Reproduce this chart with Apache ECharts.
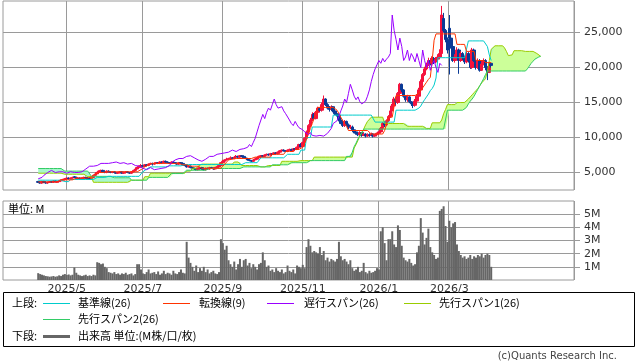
<!DOCTYPE html>
<html><head><meta charset="utf-8">
<script src="https://cdn.jsdelivr.net/npm/echarts@6/dist/echarts.min.js"></script>
<style>html,body{margin:0;padding:0;background:#fff}#c{width:638px;height:362px}</style>
</head><body><div id="c"></div>
<script>
// ---- categories (trading-day slots) ----
const N_CAT = 300;          // slots on the time axis (incl. future 26 days and margins)
const START = 18;           // slot of first candle
const monthLabels = ['2025/5','2025/7','2025/9','2025/11','2026/1','2026/3'];
const monthIdx    = [33, 73, 115, 157, 197, 234];
const priceTicks  = [5000, 10000, 15000, 20000, 25000];
const volTicks    = [1, 2, 3, 4, 5];

// ---- daily prices ----
const opens = [
3700,3600,3500,3700,3600,3500,3600,3700,3600,3800,
3600,3700,3800,3900,4000,4100,4200,4100,4200,4400,
4300,4100,4200,4100,4200,4300,4200,4200,4100,4300,
4600,4800,5000,5200,5300,5100,5000,5200,5100,5000,
5100,5000,4900,5000,5100,4900,5000,5100,5000,4900,
5100,5300,5500,5700,5900,6000,5900,6100,6000,6200,
6300,6200,6300,6400,6300,6500,6400,6600,6500,6400,
6300,6500,6400,6300,6200,6400,6300,6100,6000,5800,
5900,5700,5600,5500,5400,5600,5700,5500,5400,5600,
5500,5700,5600,5500,5700,5800,6000,6400,6600,6800,
6900,7000,7100,7000,7200,7300,7200,7400,7300,7100,
7000,6800,6700,6600,6800,6900,7100,7300,7400,7300,
7500,7600,7500,7700,7600,7800,7700,7900,8100,8200,
8100,8000,8200,8300,8100,8400,8300,8600,9000,8700,
9300,9900,10800,11700,12500,13300,12700,13600,14200,13900,
14700,15500,14700,14200,14000,14400,13800,13400,13200,12500,
12000,11700,12300,11800,11400,11500,11100,10800,10600,10400,
10700,10300,10500,10200,10400,10300,10500,10200,10400,10600,
10800,11300,12000,11800,12400,13000,13800,14500,15500,15000,
16300,17600,16800,15900,15400,15800,15100,14800,14600,15200,
15900,16800,18000,19000,19800,20400,21000,20600,21300,20800,
21200,21500,22000,27000,25300,24000,25600,24200,23000,21000,
21500,22500,21000,22000,21500,20800,22000,21000,20000,22500,
21000,20000,21000,19600,20500,21000,20000,19300,20600];
const closes = [
3600,3500,3700,3600,3500,3600,3700,3600,3800,3700,
3700,3800,3900,4000,4100,4200,4100,4200,4300,4300,
4100,4200,4100,4200,4300,4200,4100,4100,4300,4600,
4800,5000,5200,5300,5100,5000,5200,5100,5000,5100,
5000,4900,5000,5100,4900,5000,5100,5000,4900,5100,
5300,5500,5700,5900,6000,5900,6100,6000,6200,6300,
6200,6300,6400,6300,6500,6400,6600,6500,6400,6300,
6500,6400,6300,6200,6400,6300,6100,6000,5800,5900,
5700,5600,5500,5400,5600,5700,5500,5400,5600,5500,
5700,5600,5500,5700,5800,6000,6400,6600,6800,6900,
7000,7100,7000,7200,7300,7200,7400,7300,7100,7000,
6800,6700,6600,6800,6900,7100,7300,7400,7300,7500,
7600,7500,7700,7600,7800,7700,7900,8100,8200,8100,
8000,8200,8300,8100,8400,8300,8600,9000,8700,9300,
9900,10800,11700,12500,13300,12700,13600,14200,13900,14700,
15500,14700,14200,14000,14400,13800,13400,13200,12500,12000,
11700,12300,11800,11400,11500,11100,10800,10600,10400,10700,
10300,10500,10200,10400,10300,10500,10200,10400,10600,10800,
11300,12000,11800,12400,13000,13800,14500,15500,15000,16300,
17600,16800,15900,15400,15800,15100,14800,14600,15200,15900,
16800,18000,19000,19800,20400,21000,20600,21300,20800,21200,
21500,22000,27500,25300,24000,22500,24200,23000,21000,21500,
22500,21000,22000,21500,20800,22000,21000,20000,22500,21000,
20000,21000,19600,20500,21000,20000,19300,20600,20300];
const highs = [
3800,3700,3800,3800,3700,3700,3800,3800,3900,3900,
3800,3900,4000,4100,4200,4300,4300,4300,4400,4500,
4400,4300,4300,4300,4400,4400,4300,4300,4400,4700,
4900,5100,5300,5400,5400,5200,5300,5300,5200,5200,
5200,5100,5100,5200,5200,5100,5200,5200,5100,5200,
5400,5600,5800,6000,6200,6100,6200,6200,6300,6400,
6400,6400,6500,6500,6600,6600,6700,6700,6600,6500,
6600,6600,6500,6400,6500,6500,6400,6200,6100,6000,
6000,5800,5700,5600,5700,5800,5800,5600,5700,5700,
5800,5800,5700,5800,5900,6100,6500,6800,6900,7100,
7100,7300,7200,7300,7500,7400,7500,7500,7400,7200,
7100,6900,6800,6900,7000,7200,7400,7500,7500,7600,
7700,7700,7800,7800,7900,7900,8000,8200,8300,8300,
8200,8300,8400,8400,8500,8500,8700,9100,9200,9400,
10000,11000,11900,12800,13600,13500,13800,14400,14300,15000,
16000,15600,14900,14500,14600,14500,14000,13600,13400,12800,
12200,12500,12400,12000,11800,11700,11300,11000,10800,10900,
10800,10700,10600,10600,10600,10700,10600,10500,10700,10900,
11500,12200,12300,12600,13200,14000,14800,15800,15800,16500,
17800,17700,16900,16000,16100,15900,15200,15000,15500,16200,
17100,18300,19200,20100,20700,21400,21300,21600,21500,21500,
21900,22600,28800,27800,25500,24300,27500,25200,23200,21900,
22900,22700,22300,22200,21700,22300,22200,21200,22800,22700,
21200,21300,21200,20900,21300,21200,20200,20800,20700];
const lows = [
3500,3400,3400,3500,3400,3400,3500,3500,3500,3600,
3500,3600,3700,3800,3900,4000,4000,4000,4100,4200,
4000,4000,4000,4000,4100,4100,4000,4000,4000,4200,
4500,4700,4900,5100,5000,4900,4900,5000,4900,4900,
4900,4800,4800,4900,4800,4800,4900,4900,4800,4800,
5000,5200,5400,5600,5800,5800,5800,5900,5900,6100,
6000,6100,6200,6200,6200,6300,6300,6400,6300,6200,
6200,6300,6200,6100,6100,6200,6000,5900,5700,5700,
5600,5500,5400,5300,5300,5500,5400,5300,5300,5400,
5400,5500,5400,5400,5600,5700,5900,6300,6500,6700,
6800,6900,6900,6900,7100,7100,7100,7200,7000,6900,
6700,6600,6500,6500,6700,6800,7000,7200,7200,7200,
7400,7400,7400,7500,7500,7600,7600,7800,8000,8000,
7900,7900,8100,8000,8000,8200,8200,8500,8600,8600,
9200,9700,10600,11500,12300,12500,12600,13400,13700,13700,
14500,14500,14000,13700,13800,13600,13200,13000,12300,11900,
11500,11500,11600,11200,11200,10900,10600,10400,10200,10200,
10100,10200,10000,10100,10100,10200,10000,10100,10200,10500,
10700,11100,11500,11600,12200,12800,13700,14300,14700,14800,
16100,16500,15700,15100,15100,14900,14500,14200,14400,15000,
15700,16600,17800,18800,19600,20200,20300,20400,20500,20600,
20900,21200,21700,25000,23600,22000,19000,22700,20800,20700,
21200,19100,20800,21100,20500,20600,20700,19800,19800,20800,
19700,19800,19400,19500,20300,19600,18200,19200,20000];

// ---- volume (M shares) ----
const volumes = [
0.52,0.45,0.4,0.35,
0.3,0.28,0.25,0.27,0.3,0.25,0.28,0.35,0.3,
0.4,0.45,0.38,0.42,0.35,0.4,
0.95,
0.55,0.4,0.35,0.3,0.35,0.4,0.3,0.35,0.3,0.4,0.35,
1.35,1.3,1.2,
1.25,1.0,0.9,
0.6,0.55,0.5,0.6,0.45,0.5,0.4,
0.5,0.45,0.55,0.4,0.45,0.5,0.35,0.45,
1.2,1.2,0.8,
0.5,0.45,0.6,0.8,0.5,0.55,0.6,0.45,
0.65,0.4,0.5,0.7,0.45,0.55,0.5,0.4,0.7,0.5,0.45,0.6,0.8,0.55,0.5,
2.9,
1.7,1.3,1.0,
0.7,1.1,0.6,0.9,0.7,1.0,0.6,0.8,0.5,0.6,0.7,0.5,0.45,0.6,
3.1,2.8,2.3,2.6,1.5,1.2,
1.0,1.4,0.8,1.2,1.6,1.0,1.5,
1.6,1.1,1.3,0.9,1.2,1.0,0.8,
1.2,1.3,2.1,1.5,1.0,1.1,
0.7,0.8,0.6,0.9,0.7,0.6,0.8,0.5,0.6,
1.1,
0.7,0.6,0.8,0.5,
1.1,1.0,0.9,1.15,0.9,
2.5,3.1,2.6,2.1,
2.2,2.1,2.0,2.5,1.9,
2.2,1.5,1.7,1.4,1.6,
1.5,1.4,1.6,
2.9,
1.8,1.5,1.6,1.4,1.2,1.5,
0.9,0.7,0.8,1.0,0.6,0.7,
1.3,
0.6,0.5,0.7,0.55,0.6,0.7,
0.9,0.8,
3.7,4.0,2.8,1.5,3.1,3.1,3.7,2.7,2.5,4.15,3.8,2.6,1.7,
1.5,1.4,1.6,1.3,1.1,1.2,
2.1,2.6,4.7,3.6,2.7,3.2,3.9,2.5,2.1,1.9,1.6,1.7,
5.25,5.4,5.6,4.1,2.9,4.5,4.0,4.3,4.4,2.7,2.2,1.9,
1.7,1.8,1.6,1.7,1.9,1.6,1.8,1.7,1.9,1.8,2.0,1.7,1.9,2.0,1.9,
1.0];

// ---- ichimoku lines, as [value, run length] from START ----
const tenkanRuns = [[3650,12],[3950,8],[4200,8],[4400,1],[4600,1],[4800,1],[4900,1],[5000,4],[5100,18],
[5400,1],[5600,1],[5800,1],[6000,1],[6100,1],[6300,16],[6100,5],[5900,6],[5600,11],
[5900,1],[6200,1],[6500,1],[6800,1],[6900,3],[7000,10],[7200,9],[7600,7],[8000,5],[8300,4],
[8600,1],[9200,1],[9800,1],[10500,1],[11300,1],[12000,1],[12800,1],[13300,1],[14300,10],
[13900,1],[13400,1],[12900,1],[12400,1],[12000,1],[11600,1],[11000,12],[10500,7],
[11000,1],[12000,1],[12900,3],[14500,1],[16000,12],
[16300,1],[16700,1],[17100,1],[17500,1],[17900,1],[18300,1],[18600,1],[21000,1],[23900,1],
[24800,11],[23300,5],[22300,5],[21000,5],[20700,4]];
const kijunRuns = [[3900,13],[3700,4],[4000,14],[4300,5],[4450,18],[4800,1],[5100,1],[5300,1],[5500,1],[5600,1],
[5800,10],[5950,8],[6140,31],[6400,9],[7100,14],[7600,7],[8200,3],[10000,3],[11500,11],[13200,22],
[12200,11],[13900,12],[14200,1],[14500,1],[15000,1],[15400,1],[15800,1],[16200,1],[16700,1],[17000,1],
[17500,1],[18500,1],[21400,16],[23800,9],[23800,1],[23000,1],[21800,1],[21000,1]];
const senkouARuns = [[4900,14],[4750,12],[4400,3],[3600,20],[3900,7],[4400,3],[4900,19],[5200,3],[5600,3],[5900,2],
[6200,17],[6500,4],[6000,10],[5800,4],[6000,7],[6600,10],[6700,7],[7200,21],
[8500,1],[9000,1],[9600,1],[10200,1],[10700,1],[11200,1],[11800,1],[12300,1],[12500,1],
[12900,7],[12000,12],[11600,10],[11300,3],[12100,5],[12500,1],[13400,1],[14000,1],[14700,5],[15000,5],
[15200,1],[15500,1],[15800,1],[16100,1],[16400,1],[16700,1],[17000,1],[17400,1],[17800,1],[18100,1],[18400,1],
[19500,1],[21000,1],[22600,2],[23100,5],[22800,1],[22300,1],[21700,1],[21600,1],[21800,1],
[22400,6],[22300,5],[22100,1],[22000,1],[21800,1],[21600,1]];
const senkouBRuns = [[5570,14],[5200,14],[4450,11],[4250,10],[3900,9],[4300,12],[4850,8],[5330,12],[5570,17],
[5800,16],[6100,10],[6400,10],[6700,19],[7300,3],[7900,1],[8700,1],[9200,1],[9800,1],[10300,1],[10600,1],
[11200,44],[13900,9],[14000,1],[14300,1],[14800,1],[15200,1],[15500,1],[15900,1],[16400,1],[16900,1],
[17400,1],[17900,1],[18400,1],[19000,1],[19500,21],
[19800,1],[20200,1],[20600,1],[20900,1],[21200,1],[21400,1],[21500,1],[21600,1]];
const CHIKOU_SHIFT = 26;

// ---- build ----
function expand(runs){const o=[];runs.forEach(function(r){for(let i=0;i<r[1];i++)o.push(r[0]);});return o;}
function pairs(arr){return arr.map(function(v,i){return [START+i, v];});}
const tenkan = expand(tenkanRuns), kijun = expand(kijunRuns);
const spanA = expand(senkouARuns), spanB = expand(senkouBRuns);
const chikou = closes.slice(CHIKOU_SHIFT);
const cats = []; for (let i=0;i<N_CAT;i++) cats.push(String(i));
const candle = opens.map(function(o,i){return [START+i, o, closes[i], lows[i], highs[i]];});
const cloudBase = spanA.map(function(a,i){return [START+i, Math.min(a, spanB[i])];});
const cloudUp = spanA.map(function(a,i){return [START+i, Math.max(a-spanB[i],0)];});
const cloudDn = spanA.map(function(a,i){return [START+i, Math.max(spanB[i]-a,0)];});
const isMonth = function(i){return monthIdx.indexOf(i) >= 0;};

const gridLine = {color:'#9a9a9a', width:1};
const numFont = 'DejaVu Sans';
const jpFont = 'Noto Sans CJK JP';

const chart = echarts.init(document.getElementById('c'), null, {renderer:'canvas'});
function lineSeries(name, data, color){
  return {name:name, type:'line', xAxisIndex:0, yAxisIndex:0, data:data, showSymbol:false, symbol:'none',
    lineStyle:{color:color, width:1}, itemStyle:{color:color}, z:4, silent:true};
}
const legendRow1 = [
  {name:'基準線(26)', color:'#00cccc', lx:43, tx:78},
  {name:'転換線(9)', color:'#ff3300', lx:163, tx:199},
  {name:'遅行スパン(26)', color:'#9900ff', lx:267, tx:304},
  {name:'先行スパン1(26)', color:'#99cc00', lx:404, tx:439}
];
const gfx = [];
gfx.push({type:'rect', shape:{x:3.5,y:292.5,width:631,height:54}, style:{fill:'none', stroke:'#000', lineWidth:1}});
gfx.push({type:'text', x:12, y:303, style:{text:'上段:', font:'11px "'+jpFont+'"', fill:'#000', verticalAlign:'middle'}});
legendRow1.forEach(function(it){
  gfx.push({type:'line', shape:{x1:it.lx,y1:303.5,x2:it.lx+27,y2:303.5}, style:{stroke:it.color, lineWidth:1}});
  gfx.push({type:'text', x:it.tx, y:303, style:{text:it.name, font:'11px "'+jpFont+'"', fill:'#000', verticalAlign:'middle'}});
});
gfx.push({type:'line', shape:{x1:43,y1:319.5,x2:70,y2:319.5}, style:{stroke:'#33cc66', lineWidth:1}});
gfx.push({type:'text', x:78, y:319, style:{text:'先行スパン2(26)', font:'11px "'+jpFont+'"', fill:'#000', verticalAlign:'middle'}});
gfx.push({type:'text', x:12, y:336, style:{text:'下段:', font:'11px "'+jpFont+'"', fill:'#000', verticalAlign:'middle'}});
gfx.push({type:'line', shape:{x1:43,y1:336.5,x2:70,y2:336.5}, style:{stroke:'#666666', lineWidth:3}});
gfx.push({type:'text', x:78, y:336, style:{text:'出来高 単位:(M株/口/枚)', font:'11px "'+jpFont+'"', fill:'#000', verticalAlign:'middle'}});
gfx.push({type:'text', x:617, y:356, style:{text:'(c)Quants Research Inc.', font:'10px "'+numFont+'"', fill:'#444', align:'right', verticalAlign:'middle'}});
gfx.push({type:'text', x:8, y:209, z:10, style:{text:'単位: M', font:'11px "'+jpFont+'"', fill:'#000', verticalAlign:'middle'}});

chart.setOption({
  animation:false,
  backgroundColor:'#fff',
  grid:[
    {left:3, right:64, top:1, height:189, show:true, borderColor:'#9a9a9a', borderWidth:1, backgroundColor:'#fff'},
    {left:3, right:64, top:201, height:79, show:true, borderColor:'#9a9a9a', borderWidth:1, backgroundColor:'#fff'}
  ],
  xAxis:[
    {type:'category', gridIndex:0, data:cats, boundaryGap:true,
      axisLine:{show:false}, axisTick:{show:false}, axisLabel:{show:false},
      splitLine:{show:true, interval:function(i){return isMonth(i);}, lineStyle:gridLine}},
    {type:'category', gridIndex:1, data:cats, boundaryGap:true,
      axisLine:{show:false}, axisTick:{show:false},
      axisLabel:{show:true, interval:function(i){return isMonth(i);}, margin:4,
        formatter:function(v,i){const k=monthIdx.indexOf(Number(v));return k>=0?monthLabels[k]:'';},
        fontFamily:numFont, fontSize:11, color:'#333'},
      splitLine:{show:true, interval:function(i){return isMonth(i);}, lineStyle:gridLine}}
  ],
  yAxis:[
    {type:'value', gridIndex:0, position:'right', min:2500, max:29500,
      axisLine:{show:false},
      axisTick:{show:true, length:6, lineStyle:gridLine, customValues:priceTicks},
      axisLabel:{customValues:priceTicks, margin:10, fontFamily:numFont, fontSize:11, color:'#333',
        formatter:function(v){return v.toLocaleString('en-US');}},
      splitLine:{show:true, lineStyle:gridLine}},
    {type:'value', gridIndex:1, position:'right', min:0, max:6,
      axisLine:{show:false},
      axisTick:{show:true, length:6, lineStyle:gridLine, customValues:volTicks},
      axisLabel:{customValues:volTicks, margin:10, fontFamily:numFont, fontSize:11, color:'#333',
        formatter:function(v){return v+'M';}},
      splitLine:{show:true, lineStyle:gridLine}}
  ],
  series:[
    {name:'cloudBase', type:'line', stack:'cloud', data:cloudBase, showSymbol:false, symbol:'none',
      lineStyle:{width:0, opacity:0}, z:1, silent:true},
    {name:'cloudUp', type:'line', stack:'cloud', data:cloudUp, showSymbol:false, symbol:'none',
      lineStyle:{width:0, opacity:0}, areaStyle:{color:'#ccff99', opacity:1}, z:1, silent:true},
    {name:'cloudDn', type:'line', stack:'cloud', data:cloudDn, showSymbol:false, symbol:'none',
      lineStyle:{width:0, opacity:0}, areaStyle:{color:'#a8f7cc', opacity:1}, z:1, silent:true},
    lineSeries('先行スパン1(26)', pairs(spanA), '#99cc00'),
    lineSeries('先行スパン2(26)', pairs(spanB), '#33cc66'),
    {name:'price', type:'candlestick', xAxisIndex:0, yAxisIndex:0, data:candle,
      encode:{x:0, y:[1,2,3,4]}, barWidth:3, z:3, silent:true,
      itemStyle:{color:'#f5123d', color0:'#0a3a96', borderColor:'#f5123d', borderColor0:'#0a3a96', borderWidth:1}},
    lineSeries('基準線(26)', pairs(kijun), '#00cccc'),
    lineSeries('転換線(9)', pairs(tenkan), '#ff3300'),
    lineSeries('遅行スパン(26)', pairs(chikou), '#9900ff'),
    {name:'出来高', type:'bar', xAxisIndex:1, yAxisIndex:1, data:pairs(volumes),
      barWidth:2, itemStyle:{color:'#666666'}, silent:true}
  ],
  graphic:gfx
});
</script></body></html>
